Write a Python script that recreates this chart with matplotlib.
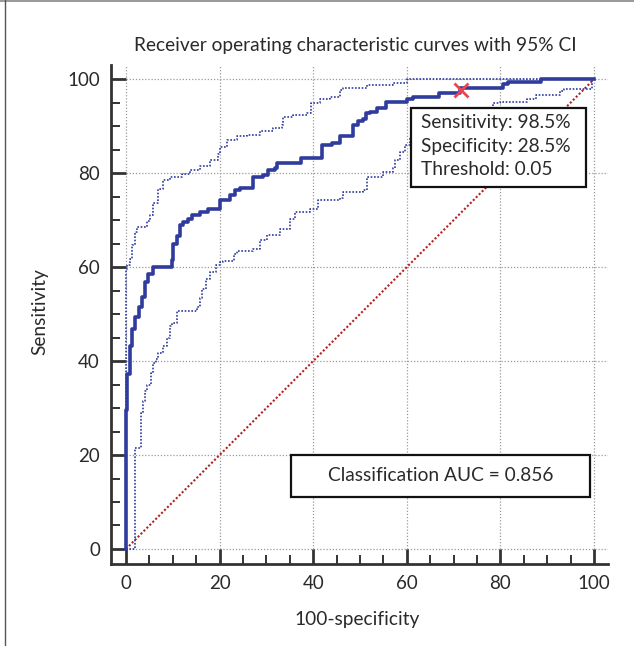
import matplotlib.pyplot as plt
from matplotlib.patches import Rectangle
from matplotlib.lines import Line2D
from matplotlib.ticker import MultipleLocator

plt.rcParams['font.family'] = ['Lato', 'DejaVu Sans']

# ROC curve (100-specificity, sensitivity), step corners
roc_x = [0, 0, 0.3, 0.85, 1.35, 1.9, 2.85, 3.35, 4.05, 4.8, 5.8, 9.8, 10.1, 10.8, 11.5,
         12.1, 13.3, 14.2, 15.8, 17.6, 20.1, 22.2, 23.3, 24.4, 27.1, 29.3, 30.4, 31.8,
         32.2, 37.4, 41.9, 44.0, 45.8, 48.4, 49.6, 50.7, 51.3, 52.1, 53.6, 55.5, 60.0,
         61.4, 66.8, 71.4, 80.5, 81.7, 88.7, 100]
roc_y = [0, 29.5, 37.2, 43.2, 46.8, 49.3, 51.5, 53.6, 56.8, 58.5, 60.0, 61.5, 65.0, 66.7,
         68.9, 69.6, 70.3, 71.0, 71.7, 72.3, 74.3, 75.3, 76.5, 76.8, 79.2, 79.6, 80.6, 81.0,
         82.1, 83.3, 86.0, 86.5, 87.8, 90.3, 91.1, 91.5, 92.7, 93.1, 93.8, 95.2, 95.8,
         96.3, 97.0, 98.2, 98.9, 99.4, 100, 100]

# upper 95% CI
upper_x = [0, 0, 0.3, 0.85, 1.2, 1.9, 2.3, 4.4, 5.1, 5.8, 6.9, 8.0, 9.4, 11.9, 13.7, 15.8,
           17.9, 19.7, 20.1, 21.5, 23.7, 25.8, 28.6, 31.5, 33.3, 33.6, 35.7, 38.6, 39.6,
           41.5, 43.6, 45.7, 46.4, 51.4, 52.1, 57.1, 58.5, 60.0, 100]
upper_y = [0, 59.5, 60.5, 61.8, 64.6, 67.5, 68.5, 69.8, 71.0, 73.7, 76.7, 78.5, 79.2, 79.9,
           80.6, 81.5, 82.8, 84.0, 85.5, 87.1, 87.8, 88.2, 89.0, 89.5, 90.3, 92.0, 92.4,
           92.8, 95.0, 95.8, 96.3, 97.6, 98.1, 98.7, 98.8, 99.1, 99.2, 100, 100]

# lower 95% CI
lower_x = [0, 2.0, 3.2, 3.6, 4.1, 4.4, 5.3, 5.8, 6.5, 6.9, 8.0, 8.7, 9.4, 9.8, 11.0, 15.1,
           15.8, 16.2, 17.2, 17.9, 19.2, 20.1, 20.8, 23.0, 23.7, 27.2, 28.6, 30.1, 32.9,
           35.0, 36.1, 39.3, 41.1, 45.7, 46.4, 50.7, 51.4, 55.0, 57.1, 57.5, 58.5, 59.6,
           60.7, 62, 66, 70, 74, 78.5, 79.9, 85.6, 87.7, 92.7, 93.5, 99.5, 100]
lower_y = [0, 21.6, 29.0, 31.5, 33.6, 35.0, 37.5, 39.5, 40.4, 41.8, 43.2, 45.0, 47.5, 48.2,
           50.7, 51.5, 53.5, 55.3, 57.5, 58.9, 60.5, 61.1, 61.4, 62.8, 63.5, 63.9, 65.7,
           66.8, 68.2, 70.3, 71.7, 72.4, 74.2, 74.6, 76.0, 76.4, 79.2, 80.3, 81.0, 82.8,
           84.6, 86.0, 87.4, 88, 90, 92, 93.5, 94.9, 95.1, 95.8, 96.6, 97.4, 97.8, 100, 100]

cut_x, cut_y = 71.5, 97.6
ticks = [0, 20, 40, 60, 80, 100]

blue = '#2F3C9E'
txt = '#2a2a2a'
fs = 13.8
fig = plt.figure(figsize=(6.34, 6.46), dpi=100)
ax = fig.add_axes([0.1751, 0.1269, 0.784, 0.7724])
ax.set_xlim(-3.2, 103)
ax.set_ylim(-3.2, 103)

# grid only over the data range
ax.vlines(ticks, 0, 103, colors='#9a9a9a', linestyles=(0, (1, 1.5)), linewidth=0.9, zorder=1)
ax.hlines(ticks, 0, 103, colors='#9a9a9a', linestyles=(0, (1, 1.5)), linewidth=0.9, zorder=1)

ax.plot([0, 100], [0, 100], color='#B22222', linestyle=(0, (1, 1)), linewidth=1.5, zorder=2)
ax.plot(upper_x, upper_y, drawstyle='steps-post', color=blue, linestyle=(0, (1, 1)),
        linewidth=1.2, zorder=3)
ax.plot(lower_x, lower_y, drawstyle='steps-post', color=blue, linestyle=(0, (1, 1)),
        linewidth=1.2, zorder=3)
ax.plot(roc_x, roc_y, drawstyle='steps-post', color=blue, linewidth=2.6, zorder=4)
ax.plot(cut_x, cut_y, marker='x', color='#E8474F', markersize=10, mew=2, zorder=5)

# info boxes
ax.add_patch(Rectangle((60.9, 77.1), 37.4, 16.7, facecolor='white', edgecolor='#111111',
                       linewidth=1.6, zorder=6))
ax.text(63.0, 92.5, 'Sensitivity: 98.5%\nSpecificity: 28.5%\nThreshold: 0.05', fontsize=fs,
        color=txt, va='top', ha='left', linespacing=1.45, zorder=7)
ax.add_patch(Rectangle((35.3, 11.1), 63.8, 9.0, facecolor='white', edgecolor='#111111',
                       linewidth=1.6, zorder=6))
ax.text(67.2, 15.6, 'Classification AUC = 0.856', fontsize=fs, color=txt,
        va='center', ha='center', zorder=7)

for s in ['top', 'right']:
    ax.spines[s].set_visible(False)
for s in ['left', 'bottom']:
    ax.spines[s].set_linewidth(2.0)
    ax.spines[s].set_color('#333333')

ax.set_xticks(ticks)
ax.set_yticks(ticks)
ax.xaxis.set_minor_locator(MultipleLocator(5))
ax.yaxis.set_minor_locator(MultipleLocator(5))
ax.tick_params(which='major', direction='in', length=10.8, width=2.0, color='#333333',
               labelsize=13.5, labelcolor=txt, pad=8)
ax.tick_params(which='minor', direction='in', length=6.5, width=1.4, color='#333333')

fig.text(355.5 / 634, 1 - 45 / 646, 'Receiver operating characteristic curves with 95% CI',
         ha='center', va='center', fontsize=fs, color=txt)
fig.text(357.5 / 634, 1 - 620 / 646, '100-specificity', ha='center', va='center',
         fontsize=fs, color=txt)
fig.text(40 / 634, 1 - 312 / 646, 'Sensitivity', ha='center', va='center', rotation=90,
         fontsize=fs, color=txt)

# page frame (top and left edges)
fig.add_artist(Line2D([0, 1], [0.999, 0.999], color='#888888', linewidth=1.2))
fig.add_artist(Line2D([5 / 634, 5 / 634], [0, 1], color='#555555', linewidth=1.0))

plt.savefig('out.png', dpi=100)
